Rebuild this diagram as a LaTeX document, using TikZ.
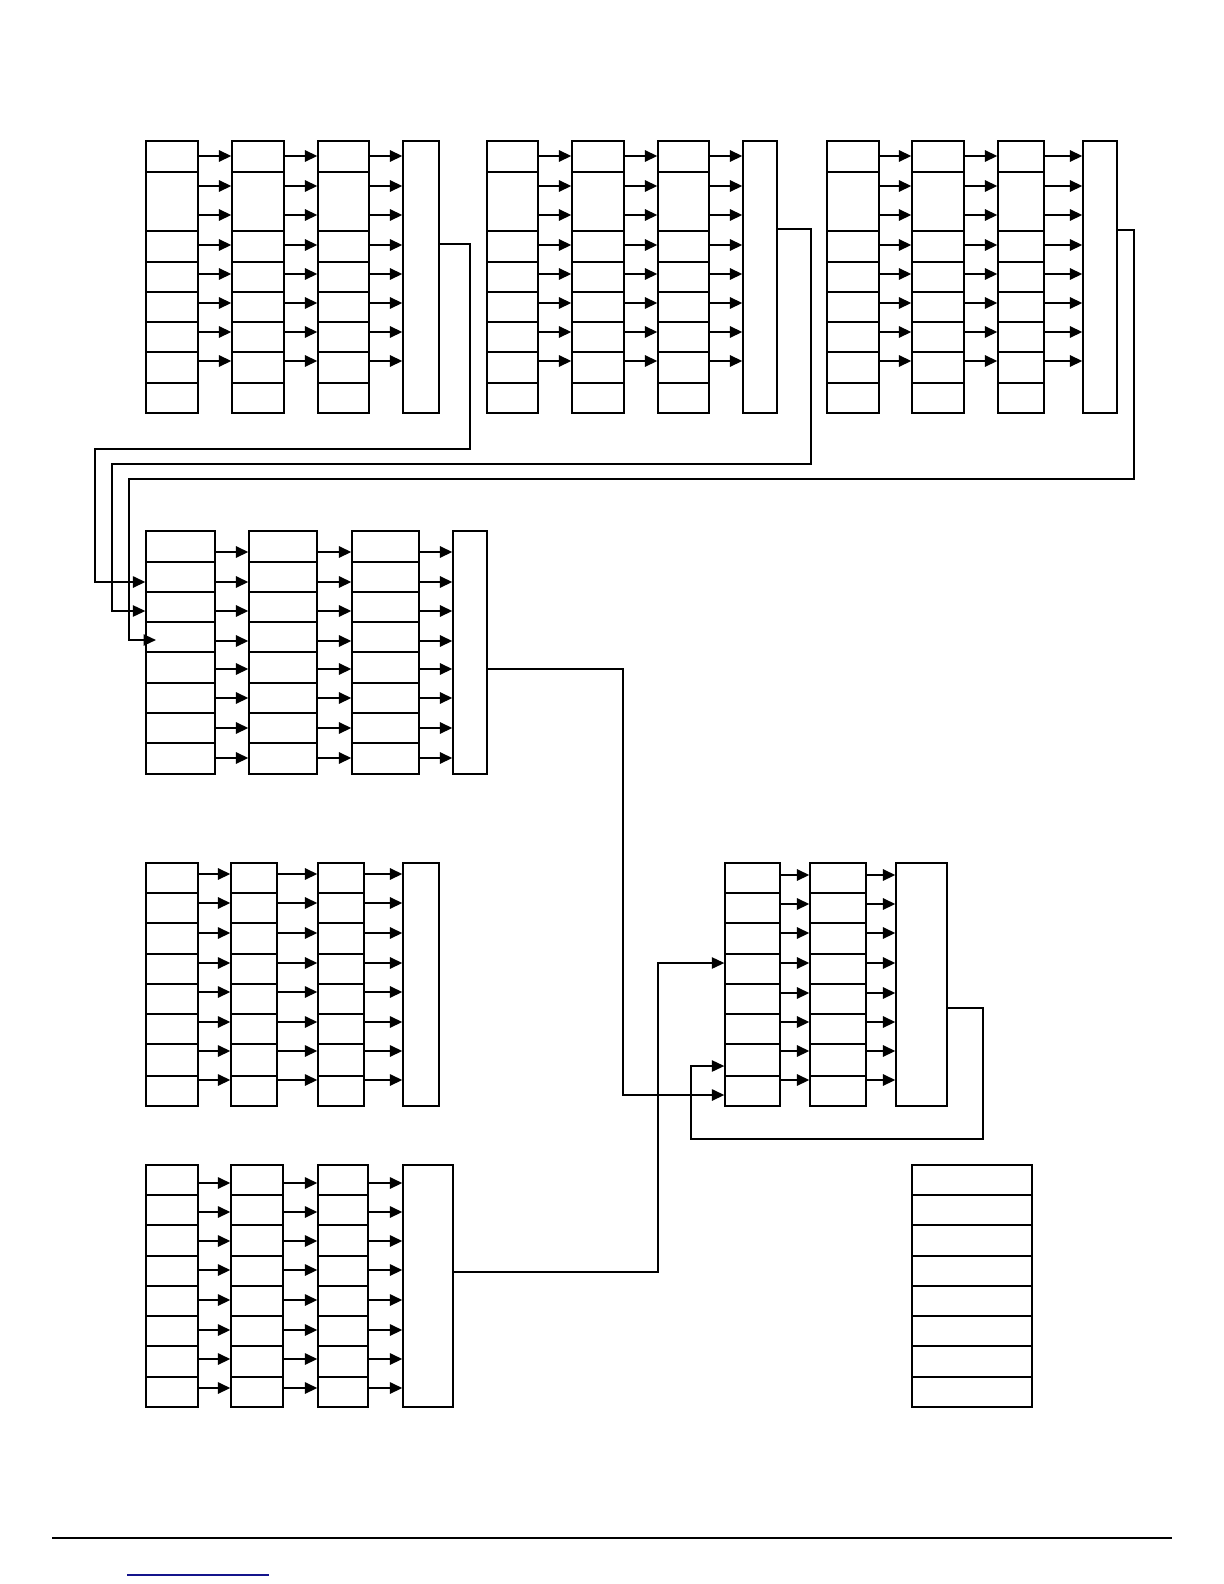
\documentclass[tikz,border=0pt]{standalone}
\usetikzlibrary{fit,arrows.meta}
\definecolor{linkblue}{RGB}{20,20,140}
\tikzset{
  colbox/.style={draw, line width=0.65pt, inner sep=0pt},
  cellline/.style={line width=0.6pt},
  arr/.style={line width=1.05pt, -{Triangle[length=6.2pt,width=5.6pt]}},
  wire/.style={line width=0.8pt},
  wirearr/.style={wire, -{Triangle[length=6.2pt,width=5.6pt]}},
}
\newcommand\mkcol[5]{\path (#2,#3) coordinate (#1-nw) (#4,#5) coordinate (#1-se);
  \node[colbox, fit=(#1-nw)(#1-se)] (#1) {};}
\newcommand\mkdiv[2]{\foreach \cc in {#1}{\foreach \yy in {#2}{\draw[cellline] (\cc.west |- 0,\yy) -- (\cc.east |- 0,\yy);}}}
\newcommand\mkarr[2]{\foreach \ss/\tt in {#1}{\foreach \yy in {#2}{\draw[arr] (\ss.east |- 0,\yy) -- (\tt.west |- 0,\yy);}}}
\begin{document}
\begin{tikzpicture}[x=0.5pt,y=-0.5pt]
\useasboundingbox[fill=white] (0,0) rectangle (1224,1584);
% ---------- block A
\mkcol{A1}{146}{141}{198}{413}
\mkcol{A2}{232}{141}{284}{413}
\mkcol{A3}{318}{141}{369}{413}
\mkcol{A4}{403}{141}{439}{413}
\mkdiv{A1,A2,A3}{172,231,262,292,322,352,383}
\mkarr{A1/A2,A2/A3,A3/A4}{156,186,215,245,274,303,332,361}
% ---------- block B
\mkcol{B1}{487}{141}{538}{413}
\mkcol{B2}{572}{141}{624}{413}
\mkcol{B3}{658}{141}{709}{413}
\mkcol{B4}{743}{141}{777}{413}
\mkdiv{B1,B2,B3}{172,231,262,292,322,352,383}
\mkarr{B1/B2,B2/B3,B3/B4}{156,186,215,245,274,303,332,361}
% ---------- block C
\mkcol{C1}{827}{141}{879}{413}
\mkcol{C2}{912}{141}{964}{413}
\mkcol{C3}{998}{141}{1044}{413}
\mkcol{C4}{1083}{141}{1117}{413}
\mkdiv{C1,C2,C3}{172,231,262,292,322,352,383}
\mkarr{C1/C2,C2/C3,C3/C4}{156,186,215,245,274,303,332,361}
% ---------- block D
\mkcol{D1}{146}{531}{215}{774}
\mkcol{D2}{249}{531}{317}{774}
\mkcol{D3}{352}{531}{419}{774}
\mkcol{D4}{453}{531}{487}{774}
\mkdiv{D1,D2,D3}{562,592,622,652,683,713,743}
\mkarr{D1/D2,D2/D3,D3/D4}{552,582,611,641,669,698,728,758}
% ---------- block E
\mkcol{E1}{146}{863}{198}{1106}
\mkcol{E2}{231}{863}{277}{1106}
\mkcol{E3}{318}{863}{364}{1106}
\mkcol{E4}{403}{863}{439}{1106}
\mkdiv{E1,E2,E3}{893,923,954,984,1014,1044,1076}
\mkarr{E1/E2,E2/E3,E3/E4}{874,903,933,963,992,1022,1051,1080}
% ---------- block F
\mkcol{F1}{725}{863}{780}{1106}
\mkcol{F2}{810}{863}{866}{1106}
\mkcol{F3}{896}{863}{947}{1106}
\mkdiv{F1,F2}{893,923,954,984,1014,1044,1076}
\mkarr{F1/F2,F2/F3}{875,904,933,963,993,1022,1051,1080}
% ---------- block G
\mkcol{G1}{146}{1165}{198}{1407}
\mkcol{G2}{231}{1165}{283}{1407}
\mkcol{G3}{318}{1165}{368}{1407}
\mkcol{G4}{403}{1165}{453}{1407}
\mkdiv{G1,G2,G3}{1195,1225,1256,1286,1316,1346,1377}
\mkarr{G1/G2,G2/G3,G3/G4}{1183,1212,1241,1270,1300,1330,1359,1388}
% ---------- block H
\mkcol{H1}{912}{1165}{1032}{1407}
\mkdiv{H1}{1195,1225,1256,1286,1316,1346,1377}
% ---------- connectors
\coordinate (ka1) at (470,449);
\coordinate (ka2) at (95,582);
\draw[wirearr, line width=1pt] (A4.east |- 0,244) -| (ka1) -| (ka2) -- (D1.west |- ka2);
\coordinate (kb1) at (811,464);
\coordinate (kb2) at (112,611);
\draw[wirearr] (B4.east |- 0,229) -| (kb1) -| (kb2) -- (D1.west |- kb2);
\coordinate (kc1) at (1134,479);
\coordinate (kc2) at (129,640);
\coordinate (kc3) at (156,640);
\draw[wirearr] (C4.east |- 0,230) -| (kc1) -| (kc2) -- (kc3);
\coordinate (kd1) at (623,1095);
\draw[wirearr, line width=1pt] (D4.east |- 0,669) -| (kd1) -- (F1.west |- kd1);
\coordinate (kg1) at (658,963);
\draw[wirearr] (G4.east |- 0,1272) -| (kg1) -- (F1.west |- kg1);
\coordinate (kf1) at (983,1139);
\coordinate (kf2) at (691,1066);
\draw[wirearr] (F3.east |- 0,1008) -| (kf1) -| (kf2) -- (F1.west |- kf2);
% ---------- footer
\coordinate (fl1) at (52,1538);
\coordinate (fl2) at (1172,1538);
\draw[line width=0.7pt] (fl1) -- (fl2);
\coordinate (bl1) at (127,1575);
\coordinate (bl2) at (269,1575);
\draw[linkblue, line width=0.7pt] (bl1) -- (bl2);
\end{tikzpicture}
\end{document}
